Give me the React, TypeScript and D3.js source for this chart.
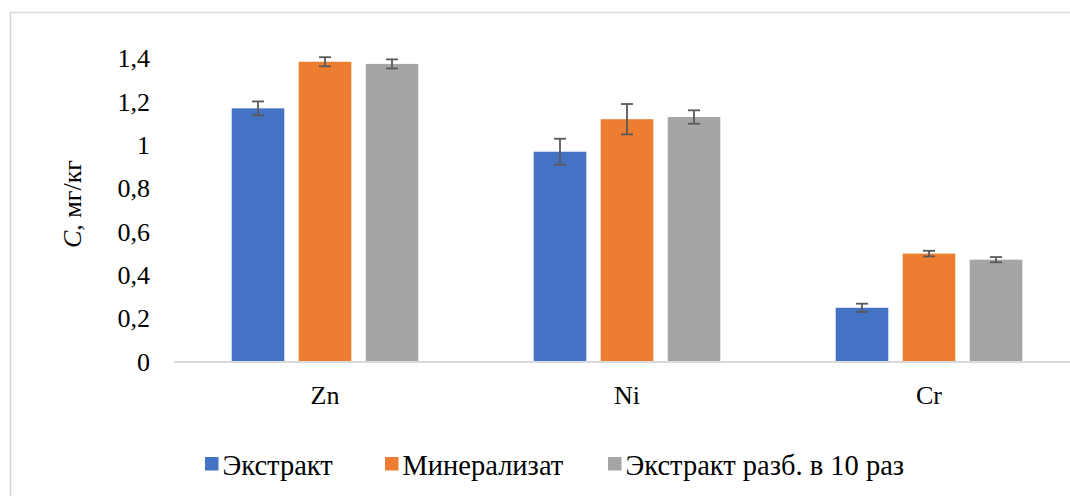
import React from "react";
import * as d3 from "d3";

const categories = ["Zn", "Ni", "Cr"];
const seriesNames = ["Экстракт", "Минерализат", "Экстракт разб. в 10 раз"];
const seriesColors = ["#4472C4", "#ED7D31", "#A5A5A5"];
const extractValues = [1.17, 0.97, 0.25];
const mineralValues = [1.385, 1.12, 0.5];
const dilutedValues = [1.375, 1.13, 0.472];
const extractErrors = [0.032, 0.06, 0.019];
const mineralErrors = [0.021, 0.07, 0.013];
const dilutedErrors = [0.021, 0.031, 0.012];
const yTicks = [0, 0.2, 0.4, 0.6, 0.8, 1, 1.2, 1.4];

const seriesValues = [extractValues, mineralValues, dilutedValues];
const seriesErrors = [extractErrors, mineralErrors, dilutedErrors];

const W = 1070;
const H = 496;
const textStyle: React.CSSProperties = { fontFamily: "'Liberation Serif', serif", fontSize: "26px" };
const legendStyle: React.CSSProperties = { fontFamily: "'Liberation Serif', serif", fontSize: "28.5px" };

export default function App() {
  const x0 = d3.scaleBand<string>().domain(categories).range([174, 1080]).paddingInner(0).paddingOuter(0);
  const x1 = d3
    .scaleBand<string>()
    .domain(seriesNames)
    .range([0, x0.bandwidth()])
    .paddingInner(0.215)
    .paddingOuter(0.861);
  const y = d3.scaleLinear().domain([0, 1.4]).range([362, 58.5]);
  const fmt = (v: number) => String(+v.toFixed(1)).replace(".", ",");

  const legendX = [205, 385, 608];

  return (
    <svg width={W} height={H} style={{ position: "absolute", left: 0, top: 0, background: "#fff" }}>
      <rect x={10.5} y={12.5} width={1070} height={500} fill="#fff" stroke="#d9d9d9" strokeWidth={1.5} />
      {seriesNames.map((s, si) =>
        categories.map((c, ci) => {
          const v = seriesValues[si][ci];
          const e = seriesErrors[si][ci];
          const bx = x0(c)! + x1(s)!;
          const bw = x1.bandwidth();
          const cx = bx + bw / 2;
          return (
            <g key={s + c}>
              <rect x={bx} y={y(v)} width={bw} height={y(0) - y(v)} fill={seriesColors[si]} />
              <line x1={cx} x2={cx} y1={y(v + e)} y2={y(v - e)} stroke="#595959" strokeWidth={1.8} />
              <line x1={cx - 6} x2={cx + 6} y1={y(v + e)} y2={y(v + e)} stroke="#595959" strokeWidth={1.8} />
              <line x1={cx - 6} x2={cx + 6} y1={y(v - e)} y2={y(v - e)} stroke="#595959" strokeWidth={1.8} />
            </g>
          );
        })
      )}
      <line x1={174} x2={1080} y1={y(0)} y2={y(0)} stroke="#d9d9d9" strokeWidth={1.8} />
      {yTicks.map((t) => (
        <text key={t} x={150} y={y(t) + 8.8} textAnchor="end" style={textStyle} fill="#000">
          {fmt(t)}
        </text>
      ))}
      {categories.map((c) => (
        <text key={c} x={x0(c)! + x0.bandwidth() / 2} y={404} textAnchor="middle" style={textStyle} fill="#000">
          {c}
        </text>
      ))}
      <text transform="translate(81,204) rotate(-90)" textAnchor="middle" style={textStyle} fill="#000">
        <tspan fontStyle="italic">C</tspan>
        <tspan>, мг/кг</tspan>
      </text>
      {seriesNames.map((s, i) => (
        <g key={s}>
          <rect x={legendX[i]} y={457} width={13.5} height={13.5} fill={seriesColors[i]} />
          <text x={legendX[i] + 17.5} y={475} style={legendStyle} fill="#000">
            {s}
          </text>
        </g>
      ))}
    </svg>
  );
}
